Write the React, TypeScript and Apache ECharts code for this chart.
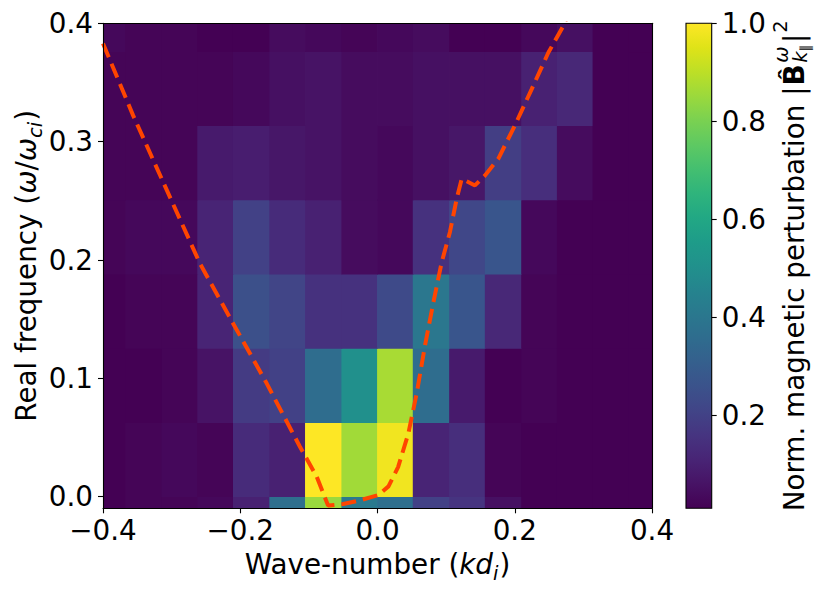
import React, { useEffect, useRef } from "react";
import * as echarts from "echarts";

// ---- data ----
// bin edges of the (k, omega) histogram
const kEdges = [-0.4, -0.367, -0.314, -0.262, -0.21, -0.157, -0.105, -0.052, 0, 0.052, 0.105, 0.157, 0.21, 0.262, 0.314, 0.367, 0.4];
const omegaEdges = [-0.0098, 0, 0.0627, 0.1254, 0.188, 0.2508, 0.3135, 0.376, 0.4];

// normalized |B|^2, one row per omega bin (bottom -> top), one value per k bin (left -> right)
const powerRow0 = [0.01, 0.02, 0.02, 0.03, 0.10, 0.37, 0.85, 0.41, 0.37, 0.20, 0.16, 0.05, 0.01, 0.01, 0.01, 0.01];
const powerRow1 = [0.01, 0.02, 0.03, 0.02, 0.13, 0.10, 1.00, 0.86, 0.98, 0.11, 0.14, 0.02, 0.01, 0.01, 0.01, 0.01];
const powerRow2 = [0.01, 0.01, 0.02, 0.06, 0.18, 0.20, 0.36, 0.50, 0.87, 0.36, 0.08, 0.01, 0.02, 0.01, 0.01, 0.01];
const powerRow3 = [0.01, 0.02, 0.02, 0.11, 0.25, 0.21, 0.15, 0.15, 0.23, 0.40, 0.27, 0.12, 0.02, 0.01, 0.01, 0.01];
const powerRow4 = [0.02, 0.03, 0.03, 0.11, 0.20, 0.13, 0.10, 0.04, 0.03, 0.15, 0.22, 0.27, 0.03, 0.01, 0.01, 0.01];
const powerRow5 = [0.02, 0.02, 0.02, 0.08, 0.09, 0.07, 0.06, 0.04, 0.03, 0.05, 0.07, 0.19, 0.14, 0.04, 0.01, 0.01];
const powerRow6 = [0.02, 0.02, 0.02, 0.02, 0.03, 0.05, 0.06, 0.04, 0.04, 0.05, 0.05, 0.05, 0.10, 0.12, 0.01, 0.01];
const powerRow7 = [0.03, 0.02, 0.02, 0.01, 0.01, 0.04, 0.03, 0.02, 0.03, 0.04, 0.01, 0.01, 0.03, 0.05, 0.01, 0.01];
const powerRows = [powerRow0, powerRow1, powerRow2, powerRow3, powerRow4, powerRow5, powerRow6, powerRow7];

// dispersion relation (dashed curve)
const dispersionK = [-0.4, -0.356, -0.307, -0.2587, -0.21, -0.1615, -0.113, -0.0886, -0.072, -0.05, -0.025, 0.001, 0.016, 0.03, 0.045, 0.057, 0.069, 0.081, 0.0935, 0.1056, 0.1154, 0.1227, 0.142, 0.1566, 0.176, 0.2, 0.2247, 0.249, 0.2707, 0.276];
const dispersionOmega = [0.383, 0.322, 0.259, 0.197, 0.146, 0.0958, 0.0422, 0.0169, -0.0075, -0.0062, -0.003, 0.0014, 0.0087, 0.025, 0.0535, 0.087, 0.127, 0.163, 0.198, 0.2237, 0.2518, 0.2686, 0.263, 0.2714, 0.2855, 0.3135, 0.3444, 0.3753, 0.3977, 0.405];

const xTicks = [-0.4, -0.2, 0, 0.2, 0.4];
const yTicks = [0, 0.1, 0.2, 0.3, 0.4];
const cbarTicks = [0.2, 0.4, 0.6, 0.8, 1.0];
const cbarRange = [0.01, 1.0];

const viridis = [
  "#440154", "#471365", "#482475", "#463480", "#414487", "#3b528b", "#355f8d",
  "#2f6c8e", "#2a788e", "#25848e", "#21918c", "#1e9c89", "#22a884", "#2fb47c",
  "#44bf70", "#5ec962", "#7ad151", "#9bd93c", "#bddf26", "#dfe318", "#fde725",
];

const FONT = "DejaVu Sans";
const F = 27.8;
const S = 19.5;
const SS = 13.9;
const C = 0.33;

const fmt = (v: number) => {
  const s = Math.abs(v) < 1e-9 ? "0.0" : v.toFixed(1);
  return s.replace("-", "\u2212");
};

export default function App() {
  const ref = useRef<HTMLDivElement>(null);

  useEffect(() => {
    if (!ref.current) return;
    const chart = echarts.init(ref.current, undefined, { renderer: "svg" });

    const ctx = document.createElement("canvas").getContext("2d")!;
    const mw = (t: string, size: number, italic = false, bold = false) => {
      ctx.font = `${italic ? "italic " : ""}${bold ? "bold " : ""}${size}px "${FONT}"`;
      return ctx.measureText(t).width;
    };
    const piece = (t: string, x: number, dy: number, size: number, italic = false, bold = false) => ({
      type: "text",
      x,
      y: dy - C * size,
      silent: true,
      style: {
        text: t,
        fontSize: size,
        fontFamily: FONT,
        fontStyle: italic ? "italic" : "normal",
        fontWeight: bold ? "bold" : "normal",
        fill: "#000",
        align: "left",
        verticalAlign: "middle",
      },
    });

    // x title
    const xa = mw("Wave-number (", F);
    const xb = mw("kd", F, true);
    const xc = mw("i", S, true);
    const xd = mw(")", F);
    const xTotal = xa + xb + xc + 1 + xd;
    const xTitle = {
      type: "group",
      x: 377.5 - xTotal / 2,
      y: 574,
      children: [
        piece("Wave-number (", 0, 0, F),
        piece("kd", xa, 0, F, true),
        piece("i", xa + xb, 6, S, true),
        piece(")", xa + xb + xc + 1, 0, F),
      ],
    };

    // y title
    const ya = mw("Real frequency (", F);
    const yb = mw("\u03c9", F, true);
    const yc = mw("/", F);
    const yd = mw("\u03c9", F, true);
    const ye = mw("ci", S, true);
    const yf = mw(")", F);
    const yTotal = ya + yb + yc + yd + ye + 1 + yf;
    const yTitle = {
      type: "group",
      x: 36,
      y: 265.8 + yTotal / 2,
      rotation: Math.PI / 2,
      children: [
        piece("Real frequency (", 0, 0, F),
        piece("\u03c9", ya, 0, F, true),
        piece("/", ya + yb, 0, F),
        piece("\u03c9", ya + yb + yc, 0, F, true),
        piece("ci", ya + yb + yc + yd, 6, S, true),
        piece(")", ya + yb + yc + yd + ye + 1, 0, F),
      ],
    };

    // colorbar label
    const ca = mw("Norm. magnetic perturbation |", F);
    const cB = mw("B", F, false, true);
    const s0 = ca + 1 + cB + 1.5;
    const cw = mw("\u03c9", S, true);
    const ck = mw("k", S, true);
    const cp = mw("\u2225", SS);
    const e0 = s0 + Math.max(cw, ck + cp) + 1.5;
    const cbar = mw("|", F);
    const c2 = mw("2", S);
    const cTotal = e0 + cbar + 1 + c2;
    const cTitle = {
      type: "group",
      x: 804,
      y: 265.8 + cTotal / 2,
      rotation: Math.PI / 2,
      children: [
        piece("Norm. magnetic perturbation |", 0, 0, F),
        piece("B\u0302", ca + 1, 0, F, false, true),
        piece("\u03c9", s0, -16, S, true),
        piece("k", s0, 3, S, true),
        piece("\u2225", s0 + ck, 6, SS),
        piece("|", e0, 0, F),
        piece("2", e0 + cbar + 1, -17, S),
      ],
    };

    const heatData: number[][] = [];
    powerRows.forEach((row, i) => {
      row.forEach((v, j) => {
        heatData.push([kEdges[j], kEdges[j + 1], omegaEdges[i], omegaEdges[i + 1], v]);
      });
    });

    const lineData = dispersionK.map((k, i) => [k, dispersionOmega[i]]);

    const stops = viridis.map((c, i) => ({ offset: i / (viridis.length - 1), color: c }));

    const axisLineStyle = { color: "#000", width: 1.1 };
    const labelStyle = { fontSize: F, fontFamily: FONT, color: "#000" };
    const OV = 0.4; // tiny overlap to hide anti-aliasing seams between cells

    const option: any = {
      animation: false,
      backgroundColor: "#ffffff",
      grid: [
        { left: 103, right: 178, top: 23.3, bottom: 86.7 },
        { left: 686, width: 25.7, top: 23.3, bottom: 86.7 },
      ],
      xAxis: [
        {
          type: "value",
          gridIndex: 0,
          min: -0.4,
          max: 0.4,
          position: "bottom",
          z: 5,
          axisLine: { show: true, onZero: false, lineStyle: axisLineStyle },
          axisTick: { show: true, length: 5, lineStyle: axisLineStyle, customValues: xTicks },
          axisLabel: { ...labelStyle, customValues: xTicks, formatter: fmt, margin: 8 },
          splitLine: { show: false },
        },
        {
          type: "value",
          gridIndex: 0,
          min: -0.4,
          max: 0.4,
          position: "top",
          z: 5,
          axisLine: { show: true, onZero: false, lineStyle: axisLineStyle },
          axisTick: { show: false },
          axisLabel: { show: false },
          splitLine: { show: false },
        },
        {
          type: "value",
          gridIndex: 1,
          min: 0,
          max: 1,
          show: false,
        },
      ],
      yAxis: [
        {
          type: "value",
          gridIndex: 0,
          min: -0.0098,
          max: 0.4,
          position: "left",
          z: 5,
          axisLine: { show: true, onZero: false, lineStyle: axisLineStyle },
          axisTick: { show: true, length: 5, lineStyle: axisLineStyle, customValues: yTicks },
          axisLabel: { ...labelStyle, customValues: yTicks, formatter: fmt, margin: 10 },
          splitLine: { show: false },
        },
        {
          type: "value",
          gridIndex: 0,
          min: -0.0098,
          max: 0.4,
          position: "right",
          z: 5,
          axisLine: { show: true, onZero: false, lineStyle: axisLineStyle },
          axisTick: { show: false },
          axisLabel: { show: false },
          splitLine: { show: false },
        },
        {
          type: "value",
          gridIndex: 1,
          min: cbarRange[0],
          max: cbarRange[1],
          position: "right",
          z: 5,
          axisLine: { show: false, onZero: false },
          axisTick: { show: true, length: 5, lineStyle: axisLineStyle, customValues: cbarTicks },
          axisLabel: { ...labelStyle, customValues: cbarTicks, formatter: fmt, margin: 10 },
          splitLine: { show: false },
        },
      ],
      visualMap: {
        type: "continuous",
        show: false,
        min: cbarRange[0],
        max: cbarRange[1],
        dimension: 4,
        seriesIndex: 0,
        inRange: { color: viridis },
      },
      series: [
        {
          type: "custom",
          xAxisIndex: 0,
          yAxisIndex: 0,
          z: 1,
          encode: { x: [0, 1], y: [2, 3] },
          data: heatData,
          renderItem: (params: any, api: any) => {
            const p0 = api.coord([api.value(0), api.value(3)]);
            const p1 = api.coord([api.value(1), api.value(2)]);
            const cs = params.coordSys;
            const rect = echarts.graphic.clipRectByRect(
              {
                x: p0[0] - OV,
                y: p0[1] - OV,
                width: p1[0] - p0[0] + 2 * OV,
                height: p1[1] - p0[1] + 2 * OV,
              },
              { x: cs.x, y: cs.y, width: cs.width, height: cs.height }
            );
            if (!rect) return null;
            return {
              type: "rect",
              shape: rect,
              style: { fill: api.visual("color") },
            };
          },
        },
        {
          type: "line",
          xAxisIndex: 0,
          yAxisIndex: 0,
          z: 3,
          data: lineData,
          symbol: "none",
          showSymbol: false,
          clip: true,
          lineStyle: { color: "#ff4500", width: 4, type: [15, 7] },
        },
        {
          type: "custom",
          xAxisIndex: 2,
          yAxisIndex: 2,
          z: 2,
          data: [[cbarRange[0], cbarRange[1]]],
          renderItem: (params: any, api: any) => {
            const top = api.coord([0, api.value(1)]);
            const bot = api.coord([1, api.value(0)]);
            const cs = params.coordSys;
            const shape = { x: cs.x, y: top[1], width: cs.width, height: bot[1] - top[1] };
            return {
              type: "group",
              children: [
                {
                  type: "rect",
                  shape,
                  style: { fill: new echarts.graphic.LinearGradient(0, 1, 0, 0, stops) },
                },
                {
                  type: "rect",
                  shape,
                  style: { fill: "none", stroke: "#000", lineWidth: 1.1 },
                },
              ],
            };
          },
        },
      ],
      graphic: [xTitle, yTitle, cTitle],
    };

    chart.setOption(option);
    return () => {
      chart.dispose();
    };
  }, []);

  return (
    <div
      ref={ref}
      style={{ position: "absolute", left: 0, top: 0, width: 830, height: 595, background: "#fff" }}
    />
  );
}
